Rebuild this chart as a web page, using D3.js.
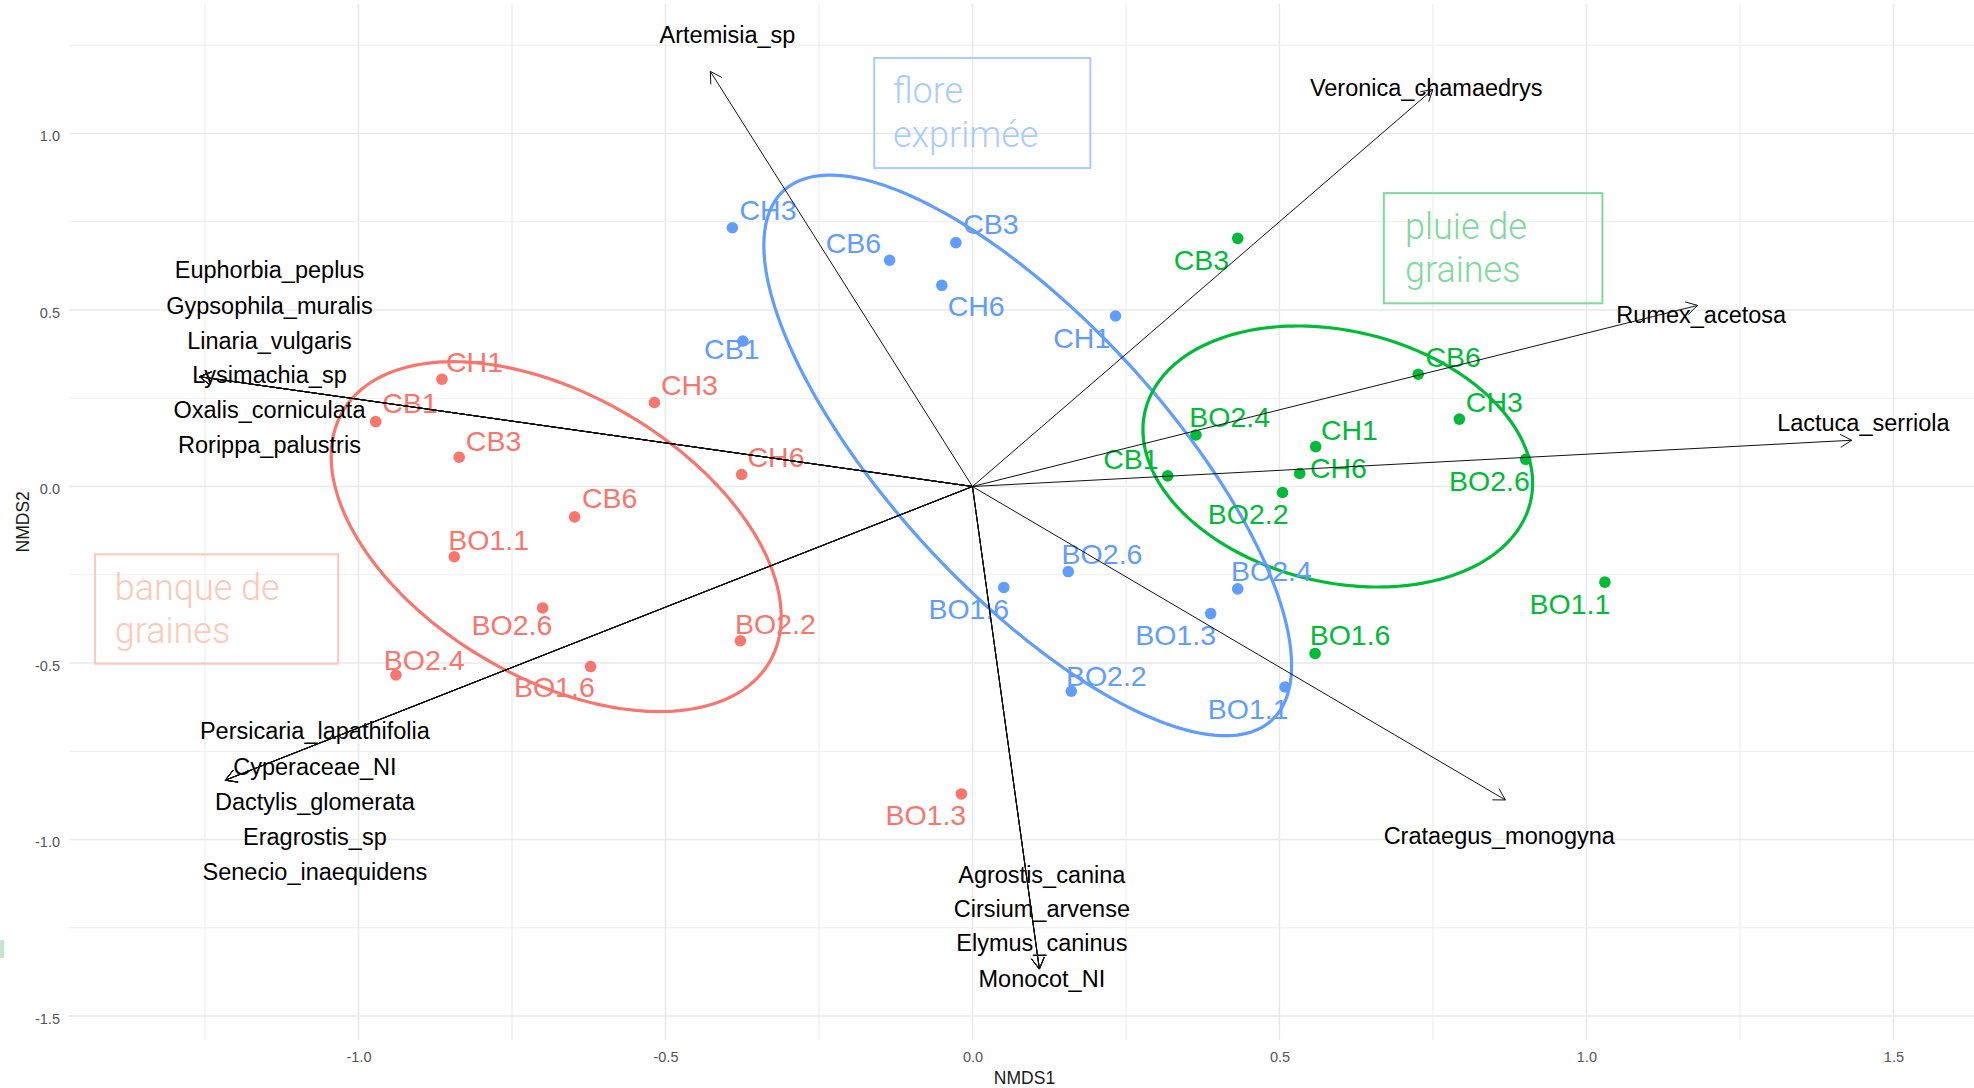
<!DOCTYPE html>
<html>
<head>
<meta charset="utf-8">
<script src="https://cdn.jsdelivr.net/npm/d3@7"></script>
<style>
  html, body { margin: 0; padding: 0; background: #ffffff; }
  svg { display: block; }
</style>
</head>
<body>
<svg id="chart" width="1974" height="1088"></svg>
<script>
// ---------------- data ----------------
const xMajorTicks = [-1.0, -0.5, 0.0, 0.5, 1.0, 1.5];
const xTickLabels = ["-1.0", "-0.5", "0.0", "0.5", "1.0", "1.5"];
const xMinorTicks = [-1.25, -0.75, -0.25, 0.25, 0.75, 1.25];
const yMajorTicks = [-1.5, -1.0, -0.5, 0.0, 0.5, 1.0];
const yTickLabels = ["-1.5", "-1.0", "-0.5", "0.0", "0.5", "1.0"];
const yMinorTicks = [-1.25, -0.75, -0.25, 0.25, 0.75, 1.25];

const groups = ["banque de graines", "flore exprimée", "pluie de graines"];
const groupColors = ["#F8766D", "#619CFF", "#00BA38"];
const groupBoxColors = ["#fcc8b8", "#aacbff", "#7fd99b"];

// sample scores (NMDS1, NMDS2) and label positions
const sampleNames = [
  "CH1","CB1","CB3","CB6","BO1.1","BO2.6","BO2.4","BO1.6","CH3","CH6","BO2.2","BO1.3",
  "CH3","CB6","CB3","CH6","CH1","CB1","BO2.6","BO1.6","BO2.4","BO1.3","BO2.2","BO1.1",
  "CB3","BO2.4","CB1","CH1","CH6","BO2.2","CB6","CH3","BO2.6","BO1.1","BO1.6"
];
const sampleGroup = [
  0,0,0,0,0,0,0,0,0,0,0,0,
  1,1,1,1,1,1,1,1,1,1,1,1,
  2,2,2,2,2,2,2,2,2,2,2
];
const sampleX = [
  -0.864,-0.972,-0.836,-0.648,-0.844,-0.700,-0.939,-0.622,-0.518,-0.376,-0.378,-0.018,
  -0.391,-0.135,-0.027,-0.050, 0.233,-0.374, 0.156, 0.051, 0.432, 0.388, 0.161, 0.509,
   0.432, 0.364, 0.318, 0.559, 0.533, 0.505, 0.726, 0.793, 0.901, 1.030, 0.558
];
const sampleY = [
   0.304, 0.184, 0.083,-0.086,-0.199,-0.344,-0.534,-0.510, 0.238, 0.034,-0.437,-0.871,
   0.733, 0.641, 0.691, 0.570, 0.483, 0.412,-0.241,-0.286,-0.290,-0.360,-0.580,-0.568,
   0.703, 0.146, 0.030, 0.113, 0.037,-0.017, 0.318, 0.191, 0.077,-0.271,-0.473
];
const sampleLabelX = [
  -0.811,-0.916,-0.780,-0.591,-0.788,-0.750,-0.893,-0.681,-0.461,-0.320,-0.321,-0.076,
  -0.333,-0.194, 0.030, 0.006, 0.178,-0.392, 0.211,-0.006, 0.487, 0.331, 0.218, 0.449,
   0.373, 0.419, 0.258, 0.614, 0.596, 0.449, 0.783, 0.850, 0.842, 0.973, 0.615
];
const sampleLabelY = [
   0.354, 0.236, 0.130,-0.033,-0.151,-0.391,-0.492,-0.568, 0.288, 0.084,-0.390,-0.931,
   0.783, 0.690, 0.744, 0.511, 0.422, 0.390,-0.190,-0.347,-0.239,-0.420,-0.535,-0.629,
   0.643, 0.198, 0.078, 0.162, 0.054,-0.076, 0.368, 0.240, 0.016,-0.331,-0.421
];

// confidence ellipses per group: centre and shape (covariance-like) matrix
const ellipseCX  = [-0.678, 0.090, 0.595];
const ellipseCY  = [-0.142, 0.088, 0.085];
const ellipseSxx = [0.1343, 0.1847, 0.1007];
const ellipseSyy = [0.2456, 0.6305, 0.1367];
const ellipseSxy = [-0.0832, -0.2556, -0.0240];

// species vectors (arrow tips) and label positions
const speciesNames = [
  "Artemisia_sp","Veronica_chamaedrys","Rumex_acetosa","Lactuca_serriola","Crataegus_monogyna",
  "Agrostis_canina","Cirsium_arvense","Elymus_caninus","Monocot_NI",
  "Euphorbia_peplus","Gypsophila_muralis","Linaria_vulgaris","Lysimachia_sp","Oxalis_corniculata","Rorippa_palustris",
  "Persicaria_lapathifolia","Cyperaceae_NI","Dactylis_glomerata","Eragrostis_sp","Senecio_inaequidens"
];
const speciesX = [
  -0.427, 0.750, 1.181, 1.432, 0.868,
   0.109, 0.109, 0.109, 0.109,
  -1.259,-1.259,-1.259,-1.259,-1.259,-1.259,
  -1.217,-1.217,-1.217,-1.217,-1.217
];
const speciesY = [
   1.176, 1.125, 0.513, 0.131,-0.888,
  -1.367,-1.367,-1.367,-1.367,
   0.311, 0.311, 0.311, 0.311, 0.311, 0.311,
  -0.832,-0.832,-0.832,-0.832,-0.832
];
const speciesLabelX = [
  -0.399, 0.739, 1.187, 1.451, 0.858,
   0.113, 0.113, 0.113, 0.113,
  -1.145,-1.145,-1.145,-1.145,-1.145,-1.145,
  -1.071,-1.071,-1.071,-1.071,-1.071
];
const speciesLabelY = [
   1.279, 1.130, 0.488, 0.180,-0.988,
  -1.098,-1.196,-1.293,-1.393,
   0.615, 0.514, 0.414, 0.316, 0.218, 0.118,
  -0.690,-0.793,-0.892,-0.993,-1.090
];

// group annotation boxes
const boxXmin = [-1.429, -0.160, 0.670];
const boxXmax = [-1.033,  0.192, 1.026];
const boxYmin = [-0.502,  0.902, 0.519];
const boxYmax = [-0.192,  1.214, 0.831];
const boxTextX = [-1.397, -0.1295, 0.7045];
const boxTextY1 = [-0.321, 1.087, 0.702];
const boxTextY2 = [-0.442, 0.962, 0.579];
const boxLines = [["banque de", "graines"], ["flore", "exprimée"], ["pluie de", "graines"]];

// ---------------- drawing ----------------
const svg = d3.select("#chart");
const W = 1974, H = 1088;
const panel = {left: 69, right: 1980, top: 3.6, bottom: 1040};

const x = d3.scaleLinear().domain([-1.4715, 1.641]).range([panel.left, panel.right]);
const y = d3.scaleLinear().domain([-1.568, 1.368]).range([panel.bottom, panel.top]);

const FONT = "'Liberation Sans', Arial, Helvetica, sans-serif";

svg.append("rect").attr("width", W).attr("height", H).attr("fill", "#ffffff");

const clip = svg.append("defs").append("clipPath").attr("id", "panelclip");
clip.append("rect").attr("x", panel.left).attr("y", panel.top)
  .attr("width", panel.right - panel.left).attr("height", panel.bottom - panel.top);

const grid = svg.append("g");
// minor grid
grid.selectAll("line.xminor").data(xMinorTicks).enter().append("line")
  .attr("x1", d => x(d)).attr("x2", d => x(d))
  .attr("y1", panel.top).attr("y2", panel.bottom)
  .attr("stroke", "#ededed").attr("stroke-width", 1.1);
grid.selectAll("line.yminor").data(yMinorTicks).enter().append("line")
  .attr("y1", d => y(d)).attr("y2", d => y(d))
  .attr("x1", panel.left).attr("x2", panel.right)
  .attr("stroke", "#ededed").attr("stroke-width", 1.1);
// major grid
grid.selectAll("line.xmajor").data(xMajorTicks).enter().append("line")
  .attr("x1", d => x(d)).attr("x2", d => x(d))
  .attr("y1", panel.top).attr("y2", panel.bottom)
  .attr("stroke", "#e9e9e9").attr("stroke-width", 1.6);
grid.selectAll("line.ymajor").data(yMajorTicks).enter().append("line")
  .attr("y1", d => y(d)).attr("y2", d => y(d))
  .attr("x1", panel.left).attr("x2", panel.right)
  .attr("stroke", "#e9e9e9").attr("stroke-width", 1.6);

// axes (labels only)
const xAxis = d3.axisBottom(x).tickValues(xMajorTicks).tickSize(0).tickPadding(12)
  .tickFormat((d, i) => xTickLabels[i]);
const gx = svg.append("g").attr("transform", `translate(0,${panel.bottom})`).call(xAxis);
gx.select(".domain").remove();
gx.selectAll("text").attr("font-family", FONT).attr("font-size", 14.5).attr("fill", "#555555");

const yAxis = d3.axisLeft(y).tickValues(yMajorTicks).tickSize(0).tickPadding(9)
  .tickFormat((d, i) => yTickLabels[i]);
const gy = svg.append("g").attr("transform", `translate(${panel.left},2.5)`).call(yAxis);
gy.select(".domain").remove();
gy.selectAll("text").attr("font-family", FONT).attr("font-size", 14.5).attr("fill", "#555555");

// axis titles
svg.append("text").attr("x", (panel.left + panel.right) / 2).attr("y", 1084)
  .attr("text-anchor", "middle").attr("font-family", FONT).attr("font-size", 17.5)
  .attr("fill", "#1a1a1a").text("NMDS1");
svg.append("text")
  .attr("transform", `translate(29,${(panel.top + panel.bottom) / 2}) rotate(-90)`)
  .attr("text-anchor", "middle").attr("font-family", FONT).attr("font-size", 17.5)
  .attr("fill", "#1a1a1a").text("NMDS2");

const plot = svg.append("g").attr("clip-path", "url(#panelclip)");

// annotation boxes
groups.forEach((g, i) => {
  plot.append("rect")
    .attr("x", x(boxXmin[i])).attr("y", y(boxYmax[i]))
    .attr("width", x(boxXmax[i]) - x(boxXmin[i]))
    .attr("height", y(boxYmin[i]) - y(boxYmax[i]))
    .attr("fill", "none").attr("stroke", groupBoxColors[i]).attr("stroke-width", 2);
  const t = plot.append("text").attr("font-family", "Roboto, 'Open Sans', sans-serif")
    .attr("font-weight", 300).attr("font-size", 36).attr("fill", groupBoxColors[i]);
  t.append("tspan").attr("x", x(boxTextX[i])).attr("y", y(boxTextY1[i])).text(boxLines[i][0]);
  t.append("tspan").attr("x", x(boxTextX[i])).attr("y", y(boxTextY2[i])).text(boxLines[i][1]);
});

// ellipses
const ellLine = d3.line().x(d => x(d[0])).y(d => y(d[1])).curve(d3.curveLinearClosed);
groups.forEach((g, i) => {
  const l11 = Math.sqrt(ellipseSxx[i]);
  const l21 = ellipseSxy[i] / l11;
  const l22 = Math.sqrt(ellipseSyy[i] - l21 * l21);
  const pts = d3.range(0, 240).map(k => {
    const t = 2 * Math.PI * k / 240;
    return [ellipseCX[i] + l11 * Math.cos(t),
            ellipseCY[i] + l21 * Math.cos(t) + l22 * Math.sin(t)];
  });
  plot.append("path").attr("d", ellLine(pts)).attr("fill", "none")
    .attr("stroke", groupColors[i]).attr("stroke-width", 3.2);
});

// points
const idx = d3.range(sampleNames.length);
plot.selectAll("circle.pt").data(idx).enter().append("circle")
  .attr("cx", i => x(sampleX[i])).attr("cy", i => y(sampleY[i]))
  .attr("r", 5.8).attr("fill", i => groupColors[sampleGroup[i]]);

// point labels
const SFS = 28.5;
plot.selectAll("text.pl").data(idx).enter().append("text")
  .attr("x", i => x(sampleLabelX[i])).attr("y", i => y(sampleLabelY[i]) + 0.36 * SFS)
  .attr("text-anchor", "middle").attr("font-family", FONT).attr("font-size", SFS)
  .attr("fill", i => groupColors[sampleGroup[i]]).text(i => sampleNames[i]);

// species labels
const LFS = 23.5;
const sidx = d3.range(speciesNames.length);
plot.selectAll("text.sl").data(sidx).enter().append("text")
  .attr("x", i => x(speciesLabelX[i])).attr("y", i => y(speciesLabelY[i]) + 0.36 * LFS)
  .attr("text-anchor", "middle").attr("font-family", FONT).attr("font-size", LFS)
  .attr("fill", "#000000").text(i => speciesNames[i]);

// species arrows
const arrows = plot.append("g").attr("stroke", "#111111").attr("stroke-width", 1).attr("fill", "none");
sidx.forEach(i => {
  const x0 = x(0), y0 = y(0), x1 = x(speciesX[i]), y1 = y(speciesY[i]);
  arrows.append("line").attr("x1", x0).attr("y1", y0).attr("x2", x1).attr("y2", y1);
  const ang = Math.atan2(y1 - y0, x1 - x0);
  const len = 13, a = Math.PI / 6;
  const p1 = [x1 - len * Math.cos(ang - a), y1 - len * Math.sin(ang - a)];
  const p2 = [x1 - len * Math.cos(ang + a), y1 - len * Math.sin(ang + a)];
  arrows.append("path").attr("d", `M${p1[0]},${p1[1]}L${x1},${y1}L${p2[0]},${p2[1]}`);
});

// small artefact at the left edge of the original picture
svg.append("rect").attr("x", 0).attr("y", 940).attr("width", 4).attr("height", 18)
  .attr("fill", "#c4e6cd");
</script>
</body>
</html>
